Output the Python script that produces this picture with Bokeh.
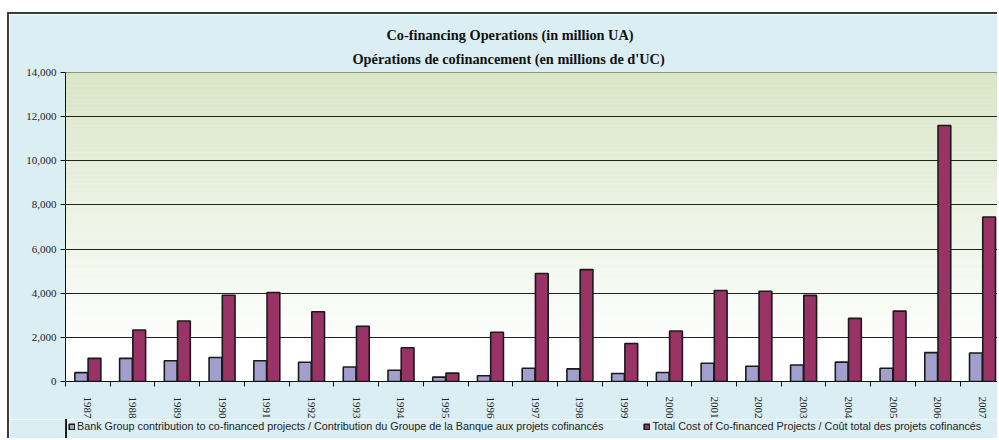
import math
import numpy as np
from bokeh.plotting import figure
from bokeh.layouts import column
from bokeh.models import (ColumnDataSource, Range1d, FixedTicker, NumeralTickFormatter,
                          Legend, LegendItem, Title)
from bokeh.transform import dodge
from bokeh.embed import file_html
from bokeh.resources import INLINE

# ---- data ----
years = ["1987", "1988", "1989", "1990", "1991", "1992", "1993", "1994", "1995", "1996", "1997",
         "1998", "1999", "2000", "2001", "2002", "2003", "2004", "2005", "2006", "2007"]
bank_contribution = [400, 1050, 940, 1090, 940, 870, 660, 510, 200, 260, 600,
                     570, 360, 410, 830, 690, 750, 880, 600, 1310, 1290]
total_cost = [1050, 2330, 2740, 3910, 4030, 3160, 2500, 1530, 380, 2230, 4890,
              5070, 1720, 2290, 4120, 4090, 3900, 2860, 3190, 11600, 7450]
y_ticks = [0, 2000, 4000, 6000, 8000, 10000, 12000, 14000]

title_1 = "Co-financing Operations (in million UA)"
title_2 = "Opérations de cofinancement (en millions de d'UC)"
label_bank = "Bank Group contribution to co-financed projects / Contribution du Groupe de la Banque aux projets cofinancés"
label_total = "Total Cost of Co-financed Projects / Coût total des projets cofinancés"

BLUE = "#a39fcd"
RED = "#993366"
BG = "#dbeef3"
EDGE = "2px solid #3c3c3c"

idx = list(range(len(years)))
src = ColumnDataSource(dict(x=idx, bank=bank_contribution, total=total_cost))

W = 990
p = figure(width=W, height=407, output_backend="svg", toolbar_location=None,
           x_range=Range1d(-0.5, 20.38), y_range=Range1d(0, 14000),
           min_border_left=56, min_border_right=0, min_border_top=58, min_border_bottom=40,
           background_fill_color="white", border_fill_color=BG,
           styles={"border-left": EDGE, "border-top": EDGE})
p.outline_line_color = "#555555"
p.outline_line_width = 1

# gradient background (green at top, white near the bottom)
nb = 120
edges = np.linspace(0, 14000, nb + 1)
top_rgb = np.array([0xd8, 0xe6, 0xc7])
cols = []
for i in range(nb):
    mid = 0.5 * (edges[i] + edges[i + 1])
    t = max(0.0, (mid - 1500) / (14000 - 1500))
    c = (1 - t) * np.array([255, 255, 255]) + t * top_rgb
    cols.append("#%02x%02x%02x" % tuple(int(round(v)) for v in c))
p.quad(left=-0.5, right=21, bottom=edges[:-1], top=edges[1:], fill_color=cols,
       line_color=cols, line_width=0.5, level="underlay")

bar_style = dict(width=0.285, line_color="#1a1a1a", line_width=1.6)
p.vbar(x=dodge("x", -0.148, range=p.x_range), top="bank", source=src, fill_color=BLUE, **bar_style)
p.vbar(x=dodge("x", 0.148, range=p.x_range), top="total", source=src, fill_color=RED, **bar_style)

# y axis
p.yaxis.ticker = FixedTicker(ticks=y_ticks, minor_ticks=[])
p.yaxis.formatter = NumeralTickFormatter(format="0,0")
p.yaxis.major_label_text_font = "Liberation Serif"
p.yaxis.major_label_text_font_size = "11px"
p.yaxis.major_label_text_color = "#222222"
p.yaxis.axis_line_color = "#111111"
p.yaxis.major_tick_in = 0
p.yaxis.major_tick_out = 5
p.yaxis.major_tick_line_color = "#111111"
p.yaxis.major_label_standoff = 4

# x axis: labels at centers, ticks at category boundaries
p.xaxis.ticker = FixedTicker(ticks=idx, minor_ticks=list(np.arange(-0.5, len(years), 1.0)))
p.xaxis.major_label_overrides = {i: y for i, y in zip(idx, years)}
p.xaxis.major_label_orientation = -math.pi / 2
p.xaxis.major_label_text_font = "Liberation Serif"
p.xaxis.major_label_text_font_size = "11px"
p.xaxis.major_label_text_color = "#222222"
p.xaxis.axis_line_color = "#111111"
p.xaxis.major_tick_in = 0
p.xaxis.major_tick_out = 0
p.xaxis.minor_tick_in = 0
p.xaxis.minor_tick_out = 5
p.xaxis.minor_tick_line_color = "#111111"
p.xaxis.major_label_standoff = 10

p.xgrid.grid_line_color = None
p.ygrid.ticker = FixedTicker(ticks=y_ticks)
p.ygrid.grid_line_color = "#222222"
p.ygrid.grid_line_width = 1

# two-line title (inner line added first)
for txt, off, so in [(title_2, 287, 12), (title_1, 321, 0)]:
    p.add_layout(Title(text=txt, align="left", offset=off, standoff=so,
                       text_font="Liberation Serif", text_font_style="bold",
                       text_font_size="14.3px", text_color="#111111"), "above")

# legend strip (separate small figure under the chart, same background);
# its proxy bars use the real data but lie outside this strip's visible x range
leg = figure(width=W, height=19, output_backend="svg", toolbar_location=None,
             x_range=Range1d(100, 101), y_range=Range1d(0, 1),
             x_axis_location=None, y_axis_location=None,
             min_border_left=56, min_border_right=0, min_border_top=0, min_border_bottom=0,
             background_fill_color=BG, background_fill_alpha=1.0, border_fill_color=BG,
             styles={"border-left": EDGE})
leg.outline_line_color = None
leg.grid.visible = False
lr1 = leg.vbar(x="x", top="bank", source=src, fill_color=BLUE, **bar_style)
lr2 = leg.vbar(x="x", top="total", source=src, fill_color=RED, **bar_style)
legend = Legend(items=[LegendItem(label=label_bank, renderers=[lr1]),
                       LegendItem(label=label_total, renderers=[lr2])],
                orientation="horizontal", location=(3, 6),
                background_fill_alpha=0, border_line_color=None,
                padding=0, margin=0, spacing=40,
                glyph_width=7, glyph_height=7, label_height=12, label_standoff=2,
                label_text_font="Liberation Sans", label_text_font_size="10.8px",
                label_text_color="#222222")
leg.add_layout(legend, "center")

layout = column(p, leg, spacing=0, margin=(12, 0, 0, 7))
open("out.html", "w").write(file_html(layout, INLINE))
